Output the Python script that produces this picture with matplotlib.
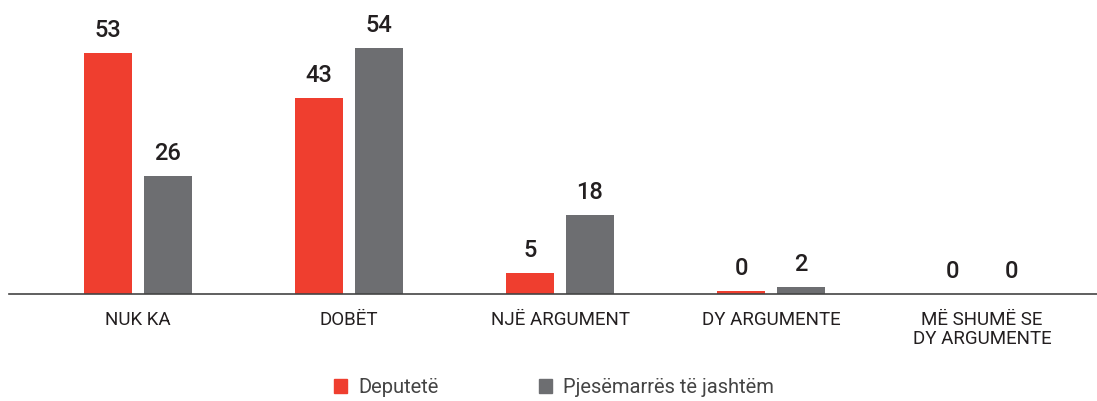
import matplotlib
matplotlib.use("Agg")
import matplotlib.pyplot as plt
from matplotlib.patches import Patch
import numpy as np

plt.rcParams["font.family"] = ["Roboto", "DejaVu Sans"]

# --- data ---------------------------------------------------------------------
categories = ["NUK KA", "DOBËT", "NJË ARGUMENT", "DY ARGUMENTE", "MË SHUMË SE\nDY ARGUMENTE"]
deputete = [53, 43, 4.7, 0.6, 0]
jashtem = [26, 54, 17.3, 1.5, 0]
deputete_labels = ["53", "43", "5", "0", "0"]
jashtem_labels = ["26", "54", "18", "2", "0"]
series_names = ["Deputetë", "Pjesëmarrës të jashtëm"]

RED = "#EF3E2F"
GRAY = "#6D6E71"
TEXT = "#231F20"

fig = plt.figure(figsize=(10.97, 4.01), dpi=100)
ax = fig.add_axes([9.5 / 1097, 107 / 401, 1 - 9.5 / 1097, 294 / 401])

x = np.arange(len(categories))
w = 0.228
off = 0.142
b1 = ax.bar(x - off, deputete, width=w, color=RED)
b2 = ax.bar(x + off, jashtem, width=w, color=GRAY)

for bars, labels in ((b1, deputete_labels), (b2, jashtem_labels)):
    for bar, lab in zip(bars, labels):
        ax.annotate(lab, (bar.get_x() + bar.get_width() / 2, bar.get_height()),
                    xytext=(0, 8), textcoords="offset points", ha="center", va="bottom",
                    fontsize=17, fontweight="medium", color=TEXT)

ax.set_xlim(-0.609, 4.545)
ax.set_ylim(0, 64.66)
ax.set_xticks(x)
ax.set_xticklabels(categories, fontsize=13.5, color=TEXT, linespacing=1.1)
ax.tick_params(axis="x", length=0, pad=12)
ax.set_yticks([])
for side in ("left", "right", "top"):
    ax.spines[side].set_visible(False)
ax.spines["bottom"].set_color("#444444")
ax.spines["bottom"].set_linewidth(1.2)

handles = [Patch(color=RED), Patch(color=GRAY)]
leg = fig.legend(handles, series_names, loc="center", bbox_to_anchor=(0.505, 0.033),
                 ncol=2, frameon=False, fontsize=14.5, handlelength=0.65, handleheight=0.65,
                 handletextpad=0.55, columnspacing=5.0)
for t in leg.get_texts():
    t.set_color("#444444")

fig.savefig("out.png", dpi=100)
